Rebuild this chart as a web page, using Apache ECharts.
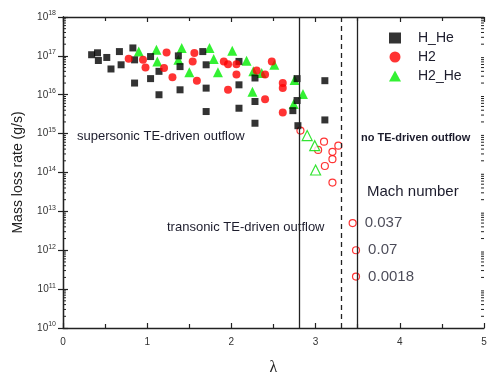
<!DOCTYPE html>
<html>
<head>
<meta charset="utf-8">
<script src="https://cdn.jsdelivr.net/npm/echarts@6/dist/echarts.min.js"></script>
<style>html,body{margin:0;padding:0;background:#fff}#c{width:500px;height:387px}</style>
</head>
<body>
<div id="c"></div>
<script>
// ---- data (lambda, mass loss rate in g/s) ----
const hHe = [[0.34,1.07e17],[0.41,1.2e17],[0.42,7.6e16],[0.52,9.1e16],[0.57,4.6e16],[0.67,1.29e17],[0.69,5.9e16],[0.83,1.6e17],[0.85,7.9e16],[0.85,2.0e16],[1.04,2.6e16],[1.04,9.6e16],[1.14,4.0e16],[1.14,1.0e16],[1.37,1.0e17],[1.39,5.3e16],[1.39,1.34e16],[1.66,1.29e17],[1.70,5.9e16],[1.70,1.48e16],[1.70,3.7e15],[2.09,7.2e16],[2.09,1.8e16],[2.09,4.5e15],[2.28,2.7e16],[2.28,6.7e15],[2.28,1.85e15],[2.73,3.9e15],[2.78,2.6e16],[2.78,7.1e15],[2.79,1.6e15],[3.11,2.3e16],[3.11,2.25e15]];
const h2 = [[0.78,8.4e16],[0.95,7.9e16],[0.98,5.0e16],[1.20,4.9e16],[1.23,1.23e17],[1.30,2.8e16],[1.54,7.2e16],[1.56,1.18e17],[1.59,2.3e16],[1.91,7.2e16],[1.96,6.1e16],[1.96,1.34e16],[2.06,6.1e16],[2.06,3.3e16],[2.30,4.2e16],[2.40,3.3e16],[2.48,7.2e16],[2.40,7.7e15],[2.61,2.0e16],[2.61,1.5e16],[2.61,3.5e15]];
const h2He = [[0.90,1.29e17],[1.11,1.44e17],[1.12,7.2e16],[1.41,1.6e17],[1.37,7.9e16],[1.50,3.8e16],[1.74,1.6e17],[1.79,8.3e16],[1.84,3.8e16],[2.01,1.35e17],[2.18,7.5e16],[2.26,4.0e16],[2.25,1.2e16],[2.36,3.6e16],[2.51,5.9e16],[2.75,2.4e16],[2.85,1.05e16],[2.74,5.8e15]];
const h2Open = [[2.82,1.2e15],[3.10,6.2e14],[3.03,3.8e14],[3.20,3.4e14],[3.27,4.9e14],[3.20,2.2e14],[3.11,1.47e14],[3.20,5.5e13]];
const h2HeOpen = [[2.90,8.9e14],[2.99,4.9e14],[3.00,1.16e14]];
const machPts = [[3.44,5.0e12],[3.48,1.0e12],[3.48,2.1e11]];
const machLabels = ['0.037','0.07','0.0018'];
const boundaries = [2.8, 3.3, 3.5];
const boundaryDashed = [false, true, false];
const seriesNames = ['H_He','H2','H2_He'];
const xMin = 0, xMax = 5, xStep = 1;
const yMinExp = 10, yMaxExp = 18;

// ---- build ----
const FONT = '"Liberation Sans", Arial, sans-serif';
const INK = '#222';
// minor log ticks (2..9 x 10^e)
const minorY = [];
for (let e = yMinExp; e < yMaxExp; e++) for (let k = 2; k <= 9; k++) minorY.push(k * Math.pow(10, e));

const axisLine = {show:true, lineStyle:{color:INK, width:1.3}};
function yAx(pos, withLabels) {
  const a = {
    type:'log', logBase:10, min:Math.pow(10,yMinExp), max:Math.pow(10,yMaxExp), splitNumber:yMaxExp-yMinExp,
    position:pos, splitLine:{show:false}, axisLine:axisLine,
    axisTick:{show:true, inside:true, length:5, lineStyle:{color:INK,width:1.2}},
    axisLabel:{show:false}
  };
  if (withLabels) {
    a.axisLabel = {
      show:true, margin:7, color:'#333', fontFamily:FONT,
      formatter: v => '{b|10}{s|' + Math.round(Math.log10(v)) + '}',
      rich:{ b:{fontSize:10, fontFamily:FONT, color:'#333'}, s:{fontSize:7, fontFamily:FONT, color:'#333', padding:[0,0,7,0]} }
    };
    a.name = 'Mass loss rate (g/s)';
    a.nameLocation = 'middle';
    a.nameGap = 38;
    a.nameRotate = 90;
    a.nameTextStyle = {fontSize:14, fontFamily:FONT, color:INK};
  }
  return a;
}
function xAx(pos, withLabels) {
  const a = {
    type:'value', min:xMin, max:xMax, interval:xStep, position:pos, splitLine:{show:false},
    axisLine:axisLine,
    axisTick:{show:true, inside:true, length:5, lineStyle:{color:INK,width:1.2}},
    minorTick:{show:true, splitNumber:2, length:4, lineStyle:{color:INK,width:1.2}},
    axisLabel:{show:withLabels, fontSize:10, color:'#333', margin:9, fontFamily:FONT}
  };
  if (withLabels) {
    a.name = 'λ'; a.nameLocation = 'middle'; a.nameGap = 32;
    a.nameTextStyle = {fontSize:16, fontFamily:'"Liberation Serif", serif', color:INK};
  }
  return a;
}

const option = {
  animation:false,
  backgroundColor:'#fff',
  grid:{left:63, right:16, top:17, bottom:59},
  xAxis:[xAx('bottom', true), xAx('top', false)],
  yAxis:[yAx('left', true), yAx('right', false)],
  legend:{
    data:seriesNames, orient:'vertical', left:384, top:26, itemWidth:12, itemHeight:11, itemGap:5,
    textStyle:{fontSize:14, fontFamily:FONT, color:'#1c1c2c', padding:[0,0,0,12]}
  },
  series:[
    // minor log ticks drawn on both vertical frame edges through the y scale
    {name:'minorTicks', type:'custom', silent:true, z:1, data:minorY.map(v => [xMin, v]),
     renderItem:(params, api) => {
       const cs = params.coordSys;
       const y = api.coord([xMin, api.value(1)])[1];
       const st = {stroke:INK, lineWidth:1};
       return {type:'group', children:[
         {type:'line', shape:{x1:cs.x, y1:y, x2:cs.x+3, y2:y}, style:st},
         {type:'line', shape:{x1:cs.x+cs.width-3, y1:y, x2:cs.x+cs.width, y2:y}, style:st}
       ]};
     }},
    {name:seriesNames[0], type:'scatter', data:hHe, symbol:'rect', symbolSize:7, itemStyle:{color:'#000'}, z:3,
     markLine:{silent:true, symbol:['none','none'], label:{show:false},
       data: boundaries.map((b,i) => ({xAxis:b, lineStyle:{color:INK, width:1.3, type: boundaryDashed[i] ? [5,4] : 'solid'}}))}},
    {name:seriesNames[1], type:'scatter', data:h2, symbol:'circle', symbolSize:8, itemStyle:{color:'#ff0000'}, z:4},
    {name:seriesNames[2], type:'scatter', data:h2He, symbol:'triangle', symbolSize:10, itemStyle:{color:'#00ee00'}, z:2},
    {name:'H2 transonic', type:'scatter', data:h2Open, symbol:'circle', symbolSize:7,
     itemStyle:{color:'#fff', borderColor:'#ff0000', borderWidth:1.2}},
    {name:'H2_He transonic', type:'scatter', data:h2HeOpen, symbol:'triangle', symbolSize:10,
     itemStyle:{color:'#fff', borderColor:'#00dd00', borderWidth:1.2}},
    {name:'Mach', type:'scatter', data:machPts.map((p,i)=>({value:p, label:{formatter:machLabels[i]}})), symbol:'circle', symbolSize:7,
     itemStyle:{color:'#fff', borderColor:'#ff0000', borderWidth:1.2},
     label:{show:true, position:'right', distance:8, fontSize:15, fontFamily:FONT, color:'#1c1c2c'}}
  ],
  graphic:[
    {type:'text', left:77, top:130, style:{text:'supersonic TE-driven outflow', fontSize:13, fontFamily:FONT, fill:'#1c1c2c'}},
    {type:'text', left:361, top:132, style:{text:'no TE-driven outflow', fontSize:11, fontWeight:'bold', fontFamily:FONT, fill:'#1c1c2c'}},
    {type:'text', left:367, top:184, style:{text:'Mach number', fontSize:15, fontFamily:FONT, fill:'#1c1c2c'}},
    {type:'text', left:167, top:221, style:{text:'transonic TE-driven outflow', fontSize:13, fontFamily:FONT, fill:'#1c1c2c'}}
  ]
};
echarts.init(document.getElementById('c')).setOption(option);
</script>
</body>
</html>
